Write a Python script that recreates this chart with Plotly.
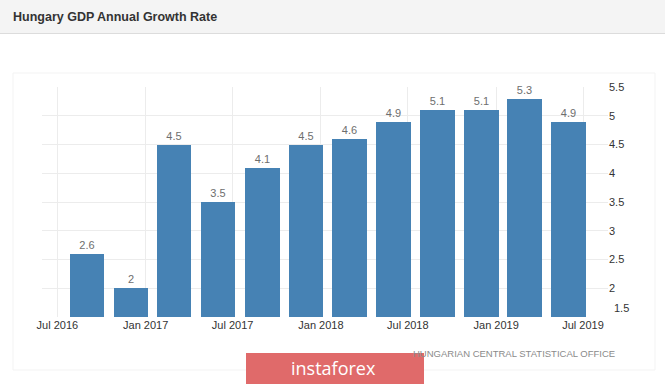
import plotly.graph_objects as go

# ---- data ----
quarter_dates = ["2016-09-01", "2016-12-01", "2017-03-01", "2017-06-01",
                 "2017-09-01", "2017-12-01", "2018-03-01", "2018-06-01",
                 "2018-09-01", "2018-12-01", "2019-03-01", "2019-06-01"]
growth_rate = [2.6, 2.0, 4.5, 3.5, 4.1, 4.5, 4.6, 4.9, 5.1, 5.1, 5.3, 4.9]

x_tick_dates = ["2016-07-01", "2017-01-01", "2017-07-01", "2018-01-01",
                "2018-07-01", "2019-01-01", "2019-07-01"]
x_tick_labels = ["Jul 2016", "Jan 2017", "Jul 2017", "Jan 2018",
                 "Jul 2018", "Jan 2019", "Jul 2019"]
y_tick_values = [1.5, 2, 2.5, 3, 3.5, 4, 4.5, 5, 5.5]
y_tick_labels = ["", "2", "2.5", "3", "3.5", "4", "4.5", "5", "5.5"]

title_text = "Hungary GDP Annual Growth Rate"
source_text = "HUNGARIAN CENTRAL STATISTICAL OFFICE"
logo_text = "instaforex"

FONT = "Liberation Sans, Arial, sans-serif"
BAR_COLOR = "#4682B4"
GRID = "#ececec"

fig = go.Figure()
fig.add_trace(go.Bar(
    x=quarter_dates,
    y=growth_rate,
    width=72 * 24 * 3600 * 1000,
    marker=dict(color=BAR_COLOR, line=dict(width=0)),
    text=[f"{v:g}" for v in growth_rate],
    textposition="outside",
    textfont=dict(family=FONT, size=11, color="#6e6e6e"),
    cliponaxis=False,
    hoverinfo="x+y",
))

fig.update_layout(
    width=665, height=384,
    margin=dict(l=42, r=57, t=87, b=67, pad=0),
    paper_bgcolor="white",
    plot_bgcolor="white",
    showlegend=False,
    font=dict(family=FONT, size=11, color="#333333"),
    xaxis=dict(
        type="date",
        range=["2016-05-30", "2019-08-22"],
        tickvals=x_tick_dates,
        ticktext=x_tick_labels,
        showgrid=True, gridcolor=GRID, gridwidth=1,
        zeroline=False, showline=False, ticks="",
        tickfont=dict(family=FONT, size=11, color="#333333"),
        fixedrange=True,
    ),
    yaxis=dict(
        range=[1.5, 5.5],
        side="right",
        tickvals=y_tick_values,
        ticktext=y_tick_labels,
        showgrid=True, gridcolor=GRID, gridwidth=1,
        zeroline=False, showline=False, ticks="",
        tickfont=dict(family=FONT, size=11, color="#333333"),
        fixedrange=True,
    ),
    bargap=0,
)

# header band
fig.add_shape(type="rect", xref="paper", yref="paper",
              x0=-42/566, x1=(665-42)/566, y0=1 + (87-33.5)/230, y1=1 + 87/230,
              line=dict(width=0), fillcolor="#f4f4f4", layer="below")
fig.add_shape(type="line", xref="paper", yref="paper",
              x0=-42/566, x1=(665-42)/566, y0=1 + (87-33.5)/230, y1=1 + (87-33.5)/230,
              line=dict(color="#dcdcdc", width=1))
# faint container border
fig.add_shape(type="rect", xref="paper", yref="paper",
              x0=(13-42)/566, x1=(655-42)/566, y0=-(370-317)/230, y1=1 + (87-73)/230,
              line=dict(color="#f3f3f3", width=1), fillcolor="rgba(0,0,0,0)", layer="below")

fig.add_annotation(text=f"<b>{title_text}</b>", xref="paper", yref="paper",
                   x=(11-42)/566, y=1 + (87-17)/230, xanchor="left", yanchor="middle",
                   showarrow=False, font=dict(family=FONT, size=12.5, color="#333333"))

# 1.5 tick label (sits slightly above the baseline)
fig.add_annotation(text="1.5", xref="paper", yref="y", x=1, y=1.5, xshift=4, yshift=9,
                   xanchor="left", yanchor="middle", showarrow=False,
                   font=dict(family=FONT, size=11, color="#333333"))

fig.add_annotation(text=source_text, xref="paper", yref="paper",
                   x=(617-42)/566, y=-(353-317)/230, xanchor="right", yanchor="middle",
                   showarrow=False,
                   font=dict(family=FONT, size=9.5, color="#8a8a8a"))

# logo
fig.add_shape(type="rect", xref="paper", yref="paper",
              x0=(246-42)/566, x1=(424-42)/566, y0=-(384-317)/230, y1=-(353-317)/230,
              line=dict(width=0), fillcolor="#e06a6a")
fig.add_annotation(text=logo_text, xref="paper", yref="paper",
                   x=(333-42)/566, y=-(368-317)/230, xanchor="center", yanchor="middle",
                   showarrow=False, font=dict(family="Open Sans, sans-serif", size=18, color="white"))

fig.write_html("out.html",
               config={"displayModeBar": False},
               post_script="document.body.style.margin='0';document.body.style.overflow='hidden';")
